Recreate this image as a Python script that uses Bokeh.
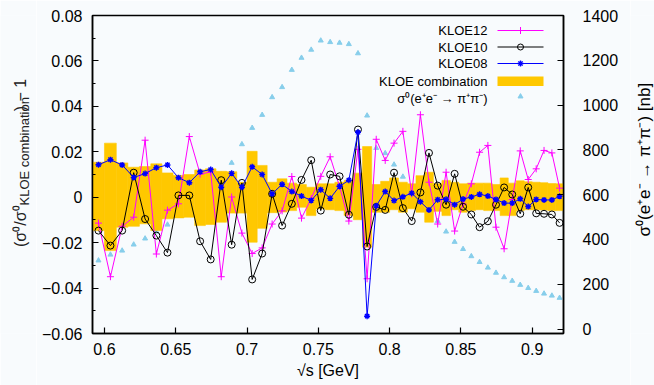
import math
from bokeh.plotting import figure
from bokeh.layouts import row
from bokeh.models import (Range1d, LinearAxis, SingleIntervalTicker, FixedTicker,
                          CustomJSTickFormatter, Label)
from bokeh.core.properties import value
from bokeh.embed import file_html
from bokeh.resources import INLINE

# ---------------- data ----------------
SQRT_S = [0.5958, 0.6042, 0.6124, 0.6205, 0.6285, 0.6364, 0.6442, 0.6519, 0.6595, 0.6671,
          0.6745, 0.6819, 0.6892, 0.6964, 0.7036, 0.7106, 0.7176, 0.7246, 0.7314, 0.7382,
          0.7450, 0.7517, 0.7583, 0.7649, 0.7714, 0.7778, 0.7842, 0.7906, 0.7969, 0.8031,
          0.8093, 0.8155, 0.8216, 0.8276, 0.8337, 0.8396, 0.8456, 0.8515, 0.8573, 0.8631,
          0.8689, 0.8746, 0.8803, 0.8860, 0.8916, 0.8972, 0.9028, 0.9083, 0.9138, 0.9192]

BIN_EDGES = [0.59161, 0.6000, 0.6083, 0.6164, 0.6245, 0.6325, 0.6403, 0.6481, 0.6557, 0.6633,
             0.6708, 0.6782, 0.6856, 0.6928, 0.7000, 0.7071, 0.7141, 0.7211, 0.7280, 0.7348,
             0.7416, 0.7483, 0.7550, 0.7616, 0.7681, 0.7746, 0.7810, 0.7874, 0.7937, 0.8000,
             0.8062, 0.8124, 0.8185, 0.8246, 0.8307, 0.8367, 0.8426, 0.8485, 0.8544, 0.8602,
             0.8660, 0.8718, 0.8775, 0.8832, 0.8888, 0.8944, 0.9000, 0.9055, 0.9110, 0.9165,
             0.92195]

KLOE12 = [-0.0114, -0.0350, -0.0128, -0.0088, 0.0251, -0.0250, -0.0057, -0.0029, 0.0267, 0.0102,
          0.0111, -0.0350, 0.0001, -0.0158, -0.0248, -0.0223, -0.0118, -0.0060, 0.0091, -0.0092,
          -0.0006, 0.0092, 0.0178, 0.0047, -0.0105, 0.0211, -0.0359, 0.0255, 0.0162, 0.0238,
          0.0290, 0.0015, 0.0363, 0.0066, -0.0118, 0.0110, -0.0149, -0.0030, 0.0059, 0.0198,
          0.0228, -0.0132, -0.0227, -0.0010, 0.0204, 0.0078, 0.0125, 0.0206, 0.0195, 0.0040]

KLOE10 = [-0.0147, -0.0213, -0.0147, 0.0108, -0.0096, -0.0169, -0.0244, 0.0008, 0.0008, -0.0194,
          -0.0274, 0.0075, -0.0209, 0.0063, -0.0362, -0.0248, 0.0015, -0.0125, -0.0029, 0.0076,
          0.0163, -0.0059, 0.0100, 0.0092, -0.0077, 0.0298, -0.0217, -0.0043, -0.0056, 0.0108,
          -0.0048, -0.0105, 0.0021, 0.0195, 0.0051, -0.0033, 0.0103, -0.0042, -0.0076, -0.0132,
          -0.0106, -0.0033, 0.0043, 0.0012, -0.0073, 0.0043, -0.0071, -0.0073, -0.0076, -0.0113]

KLOE08 = [0.0143, 0.0165, 0.0142, 0.0087, 0.0104, 0.0130, 0.0142, 0.0086, 0.0064, 0.0112,
          0.0122, 0.0044, 0.0105, 0.0044, 0.0134, 0.0100, 0.0015, 0.0057, 0.0025, 0.0005,
          -0.0014, 0.0033, -0.0005, 0.0048, 0.0075, 0.0286, -0.0524, -0.0038, 0.0025, -0.0015,
          0.0002, 0.0018, -0.0020, -0.0056, -0.0011, -0.0009, -0.0033, -0.0008, 0.0001, 0.0013,
          0.0005, -0.0010, -0.0026, -0.0026, -0.0007, -0.0041, -0.0010, -0.0012, -0.0012, 0.0004]

COMB_UP = [0.0154, 0.0238, 0.0151, 0.0132, 0.0135, 0.0147, 0.0107, 0.0096, 0.0100, 0.0120,
           0.0125, 0.0114, 0.0112, 0.0066, 0.0202, 0.0140, 0.0066, 0.0081, 0.0062, 0.0056,
           0.0044, 0.0059, 0.0059, 0.0066, 0.0074, 0.0106, 0.0223, 0.0056, 0.0070, 0.0085,
           0.0066, 0.0059, 0.0095, 0.0110, 0.0059, 0.0074, 0.0066, 0.0059, 0.0062, 0.0062,
           0.0062, 0.0056, 0.0085, 0.0062, 0.0072, 0.0068, 0.0066, 0.0064, 0.0060, 0.0059]

COMB_DN = [-0.0147, -0.0235, -0.0132, -0.0128, -0.0117, -0.0147, -0.0095, -0.0091, -0.0088, -0.0125,
           -0.0120, -0.0110, -0.0070, -0.0070, -0.0198, -0.0137, -0.0068, -0.0065, -0.0059, -0.0044,
           -0.0081, -0.0051, -0.0055, -0.0059, -0.0081, -0.0099, -0.0220, -0.0066, -0.0066, -0.0055,
           -0.0066, -0.0051, -0.0066, -0.0110, -0.0062, -0.0081, -0.0055, -0.0066, -0.0059, -0.0055,
           -0.0059, -0.0059, -0.0081, -0.0081, -0.0059, -0.0055, -0.0055, -0.0056, -0.0059, -0.0059]

SIGMA0 = [306, 332, 350, 377, 404, 435, 466, 505, 545, 590,
          640, 690, 742, 825, 898, 956, 1035, 1080, 1157, 1211,
          1247, 1288, 1281, 1278, 1272, 1231, 953, 808, 785, 734,
          680, 630, 580, 530, 482, 435, 389, 357, 325, 299,
          274, 251, 231, 215, 197, 183, 170, 158, 149, 139]

X_TICKS = [0.6, 0.65, 0.7, 0.75, 0.8, 0.85, 0.9]
Y_RANGE = (-0.06, 0.08)
Y2_RANGE = (-20, 1400)

LEGEND_LABELS = ["KLOE12", "KLOE10", "KLOE08", "KLOE combination", "σ⁰(e⁺e⁻ → π⁺π⁻)"]
Y_TITLE_PARTS = ["(σ⁰/σ⁰", "KLOE combination", ") − 1"]
Y2_TITLE = "σ⁰(e⁺e⁻ → π⁺π⁻) [nb]"
X_TITLE = "√s [GeV]"

# ---------------- style / layout ----------------
BG = "#f8fbfd"
FONT = "Liberation Sans"
MAGENTA = "#ff00ff"
BLUE = "#0000ff"
BAND = "#ffc800"
SKY = "#87ceeb"

W, H = 654, 385
LW, RW = 36, 24            # side strips holding the rotated axis titles
MW = W - LW - RW           # main figure width
FL, FR, FT, FB = 92, 91, 15, 52   # frame position in the full window
FW, FH = W - FL - FR, H - FT - FB
X0, X1 = BIN_EDGES[0], BIN_EDGES[-1]


def px_x(px):
    return X0 + (px - FL) / FW * (X1 - X0)


def py_y(py):
    return Y_RANGE[1] - (py - FT) / FH * (Y_RANGE[1] - Y_RANGE[0])


p = figure(width=MW, height=H, output_backend="svg", toolbar_location=None,
           x_range=Range1d(X0, X1), y_range=Range1d(*Y_RANGE),
           min_border_left=FL - LW, min_border_right=FR - RW, min_border_top=FT,
           min_border_bottom=FB,
           background_fill_color=BG, border_fill_color=BG,
           outline_line_color="black", outline_line_width=1.5)
p.grid.visible = False
p.extra_y_ranges = {"xs": Range1d(*Y2_RANGE)}

xa = p.xaxis[0]
xa.ticker = FixedTicker(ticks=X_TICKS, minor_ticks=[])
xa.formatter = CustomJSTickFormatter(code="return parseFloat(tick.toFixed(2)).toString();")
xa.axis_label = X_TITLE

ya = p.yaxis[0]
ya.ticker = SingleIntervalTicker(interval=0.02, num_minor_ticks=2)
ya.formatter = CustomJSTickFormatter(
    code="if (Math.abs(tick) < 1e-9) { return '0'; } return tick.toFixed(2).replace('-', '\u2212');")
ya.minor_tick_in = 3
ya.minor_tick_out = 0
ya.major_label_standoff = 10

ra = LinearAxis(y_range_name="xs", ticker=SingleIntervalTicker(interval=200, num_minor_ticks=1))
p.add_layout(ra, "right")
ra.major_label_standoff = 15
ra.minor_tick_line_color = None

for ax in (xa, ya, ra):
    ax.major_tick_in = 6
    ax.major_tick_out = 0
    ax.axis_line_width = 1.5
    ax.major_tick_line_width = 1.2
    ax.major_label_text_font = FONT
    ax.major_label_text_font_size = "16px"
    ax.major_label_text_color = "black"
    ax.axis_label_text_font = FONT
    ax.axis_label_text_font_size = "16px"
    ax.axis_label_text_font_style = "normal"
    ax.axis_label_text_color = "black"
xa.minor_tick_line_color = None
xa.major_label_standoff = 9
xa.axis_label_standoff = 4

# ---------------- data glyphs ----------------
p.scatter(SQRT_S, SIGMA0, marker="triangle", size=5, color=SKY, y_range_name="xs")

p.quad(left=BIN_EDGES[:-1], right=BIN_EDGES[1:], bottom=COMB_DN, top=COMB_UP,
       fill_color=BAND, line_color=BAND, line_width=0.6)

p.line(SQRT_S, KLOE12, line_color=MAGENTA, line_width=1)
p.scatter(SQRT_S, KLOE12, marker="cross", size=7, line_color=MAGENTA, line_width=1)

p.line(SQRT_S, KLOE10, line_color="black", line_width=1)
p.scatter(SQRT_S, KLOE10, marker="circle", size=7, fill_color=None, line_color="black", line_width=1)

p.line(SQRT_S, KLOE08, line_color=BLUE, line_width=1)
p.scatter(SQRT_S, KLOE08, marker="asterisk", size=6, line_color=BLUE, line_width=1.4)

# ---------------- legend (gnuplot style: text left of sample) ----------------
ROWS = [30, 46.5, 63, 80.5, 98]
TX, S0, S1 = 487, 497, 543
SM = (S0 + S1) / 2
for lab, ry in zip(LEGEND_LABELS, ROWS):
    p.add_layout(Label(x=px_x(TX), y=py_y(ry), text=lab, text_align="right",
                       text_baseline="middle", text_font=FONT, text_font_size="13px",
                       text_color="black"))
p.line([px_x(S0), px_x(S1)], [py_y(ROWS[0])] * 2, line_color=MAGENTA, line_width=1)
p.scatter([px_x(SM)], [py_y(ROWS[0])], marker="cross", size=7, line_color=MAGENTA)
p.line([px_x(S0), px_x(S1)], [py_y(ROWS[1])] * 2, line_color="black", line_width=1)
p.scatter([px_x(SM)], [py_y(ROWS[1])], marker="circle", size=6, fill_color=None, line_color="black")
p.line([px_x(S0), px_x(S1)], [py_y(ROWS[2])] * 2, line_color=BLUE, line_width=1)
p.scatter([px_x(SM)], [py_y(ROWS[2])], marker="asterisk", size=6, line_color=BLUE, line_width=1.4)
p.quad(left=[px_x(S0)], right=[px_x(S1)], top=[py_y(ROWS[3] - 4.5)], bottom=[py_y(ROWS[3] + 5)],
       fill_color=BAND, line_color=None)
p.scatter([px_x(SM)], [py_y(ROWS[4] - 2)], marker="triangle", size=5, color=SKY)


# ---------------- side strips with rotated axis titles ----------------
def strip(width):
    f = figure(width=width, height=H, output_backend="svg", toolbar_location=None,
               x_range=Range1d(0, width), y_range=Range1d(0, H),
               x_axis_type=None, y_axis_type=None, min_border=0,
               background_fill_color=BG, border_fill_color=BG, outline_line_color=None)
    f.grid.visible = False
    return f


LCOL = "#222222"
lf = strip(LW)
lf.text(x=[20], y=[H - 230], text=[Y_TITLE_PARTS[0]], angle=math.pi / 2,
        text_align="right", text_baseline="alphabetic", text_font=value(FONT),
        text_font_size="16px", text_color=LCOL)
lf.text(x=[24], y=[H - 230], text=[Y_TITLE_PARTS[1]], angle=math.pi / 2,
        text_align="left", text_baseline="alphabetic", text_font=value(FONT),
        text_font_size="13px", text_color=LCOL)
lf.text(x=[20], y=[H - 116], text=[Y_TITLE_PARTS[2]], angle=math.pi / 2,
        text_align="left", text_baseline="alphabetic", text_font=value(FONT),
        text_font_size="16px", text_color=LCOL)

rf = strip(RW)
rf.text(x=[14], y=[H - 174.5], text=[Y2_TITLE], angle=math.pi / 2,
        text_align="center", text_baseline="middle", text_font=value(FONT),
        text_font_size="17px", text_color="black")

layout = row(lf, p, rf)
open("out.html", "w").write(file_html(layout, INLINE))
